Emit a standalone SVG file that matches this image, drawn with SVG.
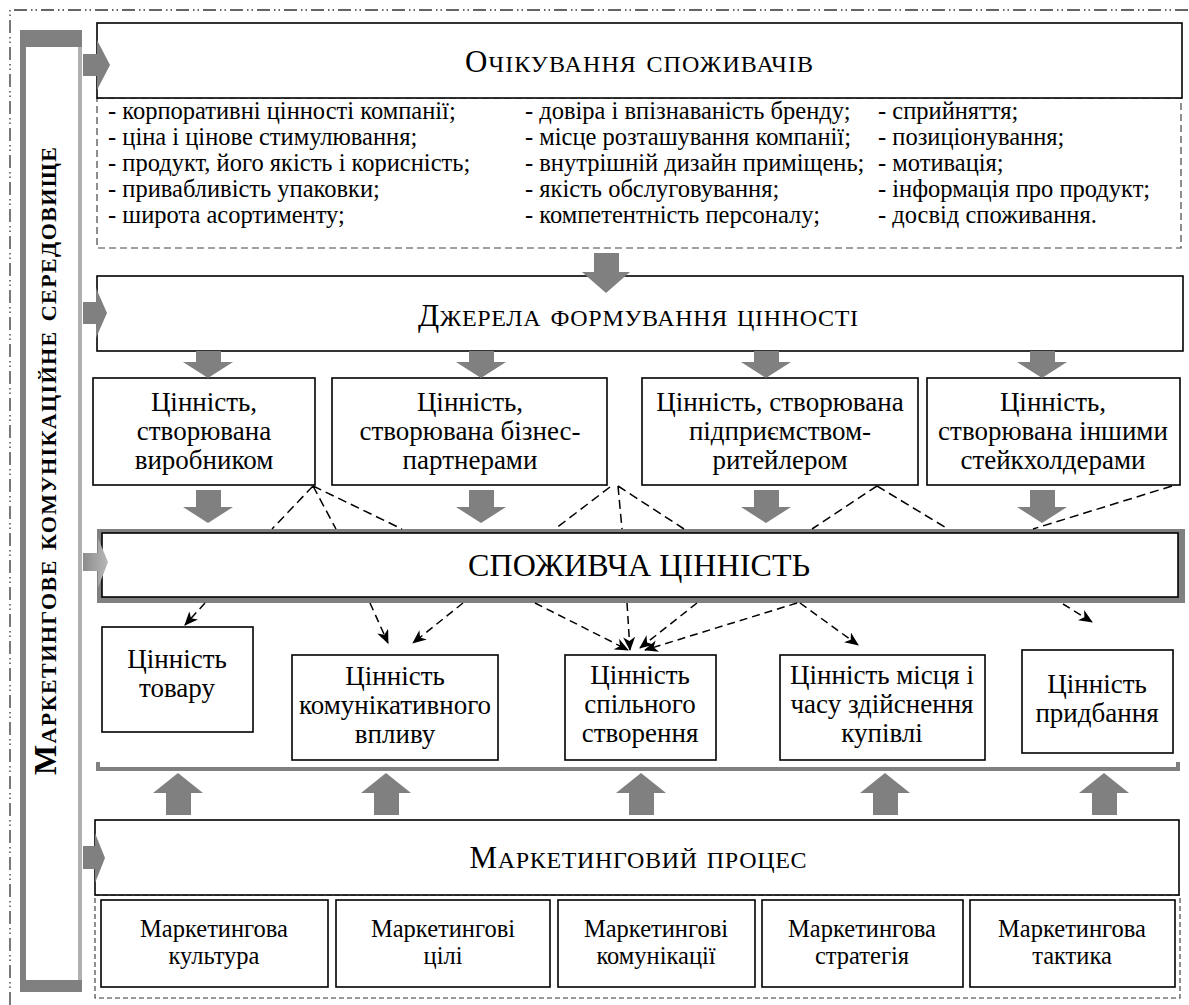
<svg xmlns="http://www.w3.org/2000/svg" width="1189" height="1005" viewBox="0 0 1189 1005">
<style>
text{font-family:"Liberation Serif","Times New Roman",serif;fill:#000}
.box{fill:#fff;stroke:#000;stroke-width:1.6}
.t{font-size:27px;text-anchor:middle}
.li{font-size:24.5px}
.sc{text-anchor:middle}
.sub{font-size:24.5px;text-anchor:middle}
.ga{fill:#808080}
.dl{fill:none;stroke:#000;stroke-width:1.5;stroke-dasharray:9 5}
.da{fill:none;stroke:#000;stroke-width:1.5;stroke-dasharray:8 5;marker-end:url(#ah)}
</style>
<defs>
<marker id="ah" markerWidth="14" markerHeight="12" refX="13" refY="6" orient="auto" markerUnits="userSpaceOnUse">
<path d="M0,0 L14,6 L0,12 L4,6 z" fill="#000"/>
</marker>
<linearGradient id="lg" x1="0" y1="0" x2="1" y2="0">
<stop offset="0" stop-color="#8c8c8c"/>
<stop offset="1" stop-color="#b8b8b8"/>
</linearGradient>
</defs>
<rect width="1189" height="1005" fill="#fff"/>
<path d="M10,1005 V10 H1189" fill="none" stroke="#333" stroke-width="1.3" stroke-dasharray="13 4 1.5 3 1.5 4"/>

<g id="env">
<rect x="20" y="30" width="62" height="962" fill="#808080"/>
<rect x="78" y="47" width="4" height="933" fill="#b0b0b0"/>
<rect x="26" y="47" width="52" height="933" fill="#fff"/>
<text transform="translate(56,461) rotate(-90)" font-weight="bold" text-anchor="middle" textLength="628" lengthAdjust="spacing"><tspan font-size="32">М</tspan><tspan font-size="31.4" font-variant="small-caps">аркетингове комунікаційне середовище</tspan></text>
</g>

<g id="expect">
<rect x="97" y="98" width="1084" height="150" fill="#fff" stroke="#444" stroke-width="1.2" stroke-dasharray="7 4"/>
<rect class="box" x="97" y="23" width="1085" height="75"/>
<text class="sc" x="639" y="72" textLength="348" lengthAdjust="spacing"><tspan font-size="31">О</tspan><tspan font-size="34" font-variant="small-caps">чікування споживачів</tspan></text>
<g class="li">
<text x="108" y="119">- корпоративні цінності компанії;</text>
<text x="108" y="145">- ціна і цінове стимулювання;</text>
<text x="108" y="171">- продукт, його якість і корисність;</text>
<text x="108" y="197">- привабливість упаковки;</text>
<text x="108" y="223">- широта асортименту;</text>
<text x="525" y="119">- довіра і впізнаваність бренду;</text>
<text x="525" y="145">- місце розташування компанії;</text>
<text x="525" y="171">- внутрішній дизайн приміщень;</text>
<text x="525" y="197">- якість обслуговування;</text>
<text x="525" y="223">- компетентність персоналу;</text>
<text x="878" y="119">- сприйняття;</text>
<text x="878" y="145">- позиціонування;</text>
<text x="878" y="171">- мотивація;</text>
<text x="878" y="197">- інформація про продукт;</text>
<text x="878" y="223">- досвід споживання.</text>
</g>
</g>

<g id="sources">
<rect class="box" x="97" y="276" width="1086" height="75"/>
<text class="sc" x="638" y="326" textLength="440" lengthAdjust="spacing"><tspan font-size="31">Д</tspan><tspan font-size="34" font-variant="small-caps">жерела формування цінності</tspan></text>
</g>

<g id="v1">
<rect class="box" x="93" y="378" width="222" height="107"/>
<text class="t" x="204" y="411">Цінність,</text>
<text class="t" x="204" y="440">створювана</text>
<text class="t" x="204" y="469">виробником</text>
</g>
<g id="v2">
<rect class="box" x="332" y="378" width="275" height="107"/>
<text class="t" x="470" y="411">Цінність,</text>
<text class="t" x="470" y="440">створювана бізнес-</text>
<text class="t" x="470" y="469">партнерами</text>
</g>
<g id="v3">
<rect class="box" x="642" y="378" width="276" height="107"/>
<text class="t" x="780" y="411">Цінність, створювана</text>
<text class="t" x="780" y="440">підприємством-</text>
<text class="t" x="780" y="469">ритейлером</text>
</g>
<g id="v4">
<rect class="box" x="927" y="378" width="253" height="107"/>
<text class="t" x="1053" y="411">Цінність,</text>
<text class="t" x="1053" y="440">створювана іншими</text>
<text class="t" x="1053" y="469">стейкхолдерами</text>
</g>

<g id="cv">
<rect x="97" y="529" width="1088" height="74" fill="#808080"/>
<rect class="box" x="102" y="533" width="1076" height="64"/>
<text x="639" y="576" font-size="32" text-anchor="middle" textLength="342" lengthAdjust="spacing">СПОЖИВЧА ЦІННІСТЬ</text>
</g>

<g id="c1">
<rect class="box" x="102" y="627" width="151" height="105"/>
<text class="t" x="177" y="668">Цінність</text>
<text class="t" x="177" y="697">товару</text>
</g>
<g id="c2">
<rect class="box" x="292" y="655" width="206" height="105"/>
<text class="t" x="395" y="685">Цінність</text>
<text class="t" x="395" y="714">комунікативного</text>
<text class="t" x="395" y="743">впливу</text>
</g>
<g id="c3">
<rect class="box" x="565" y="655" width="151" height="105"/>
<text class="t" x="640" y="684">Цінність</text>
<text class="t" x="640" y="713">спільного</text>
<text class="t" x="640" y="742">створення</text>
</g>
<g id="c4">
<rect class="box" x="780" y="655" width="205" height="105"/>
<text class="t" x="882" y="684">Цінність місця і</text>
<text class="t" x="882" y="713">часу здійснення</text>
<text class="t" x="882" y="742">купівлі</text>
</g>
<g id="c5">
<rect class="box" x="1022" y="650" width="151" height="103"/>
<text class="t" x="1097" y="693">Цінність</text>
<text class="t" x="1097" y="722">придбання</text>
</g>

<g id="process">
<rect x="95" y="895" width="1085" height="103" fill="#fff" stroke="#333" stroke-width="1.1" stroke-dasharray="5 3"/>
<rect class="box" x="95" y="820" width="1084" height="75"/>
<text class="sc" x="638" y="868" textLength="337" lengthAdjust="spacing"><tspan font-size="31">М</tspan><tspan font-size="34" font-variant="small-caps">аркетинговий процес</tspan></text>
</g>
<g id="p1"><rect class="box" x="101" y="900" width="227" height="87"/><text class="sub" x="214" y="937">Маркетингова</text><text class="sub" x="214" y="964">культура</text></g>
<g id="p2"><rect class="box" x="336" y="900" width="214" height="87"/><text class="sub" x="443" y="937">Маркетингові</text><text class="sub" x="443" y="964">цілі</text></g>
<g id="p3"><rect class="box" x="558" y="900" width="197" height="87"/><text class="sub" x="656" y="937">Маркетингові</text><text class="sub" x="656" y="964">комунікації</text></g>
<g id="p4"><rect class="box" x="762" y="900" width="201" height="87"/><text class="sub" x="862" y="937">Маркетингова</text><text class="sub" x="862" y="964">стратегія</text></g>
<g id="p5"><rect class="box" x="970" y="900" width="205" height="87"/><text class="sub" x="1072" y="937">Маркетингова</text><text class="sub" x="1072" y="964">тактика</text></g>

<g id="connectors">
<path d="M98,762 V769 H1178 V762" fill="none" stroke="#808080" stroke-width="4"/>
<polygon class="ga" points="83,54 97,54 97,40 110,65 97,90 97,76 83,76"/>
<polygon class="ga" points="83,302 96,302 96,288 107,313 96,338 96,324 83,324"/>
<polygon fill="url(#lg)" points="83,553 98,553 98,538 108,562 98,588 98,571 83,571"/>
<polygon class="ga" points="83,846 95,846 95,833 105,858 95,883 95,869 83,869"/>
<polygon class="ga" points="594,253 619,253 619,272 630,272 606,293 582,272 594,272"/>
<polygon class="ga" points="196,351 221,351 221,362 233,362 208,378 183,362 196,362"/>
<polygon class="ga" points="469,351 494,351 494,362 506,362 481,378 456,362 469,362"/>
<polygon class="ga" points="754,351 779,351 779,362 791,362 766,378 741,362 754,362"/>
<polygon class="ga" points="1030,351 1055,351 1055,362 1067,362 1042,378 1017,362 1030,362"/>
<polygon class="ga" points="196,490 221,490 221,507 233,507 208,523 183,507 196,507"/>
<polygon class="ga" points="469,490 494,490 494,507 506,507 481,523 456,507 469,507"/>
<polygon class="ga" points="754,490 779,490 779,507 791,507 766,523 741,507 754,507"/>
<polygon class="ga" points="1030,490 1055,490 1055,507 1067,507 1042,523 1017,507 1030,507"/>
<polygon class="ga" points="166,815 191,815 191,793 203,793 178,773 153,793 166,793"/>
<polygon class="ga" points="374,815 399,815 399,793 411,793 386,773 361,793 374,793"/>
<polygon class="ga" points="629,815 654,815 654,793 666,793 641,773 616,793 629,793"/>
<polygon class="ga" points="873,815 898,815 898,793 910,793 885,773 860,793 873,793"/>
<polygon class="ga" points="1092,815 1117,815 1117,793 1129,793 1104,773 1079,793 1092,793"/>
<path class="dl" d="M313,486 L272,529 M313,486 L336,529 M313,486 L402,529 M610,487 L555,529 M618,486 L622,529 M618,486 L684,529 M877,486 L812,529 M877,486 L948,529 M1172,486 L1033,529"/>
<path class="da" d="M205,603 L185,625"/>
<path class="da" d="M370,603 L388,643"/>
<path class="da" d="M463,603 L413,643"/>
<path class="da" d="M535,603 L628,650"/>
<path class="da" d="M627,603 L630,650"/>
<path class="da" d="M697,603 L640,648"/>
<path class="da" d="M797,603 L645,650"/>
<path class="da" d="M800,603 L858,645"/>
<path class="da" d="M1063,604 L1092,622"/>
</g>
</svg>
